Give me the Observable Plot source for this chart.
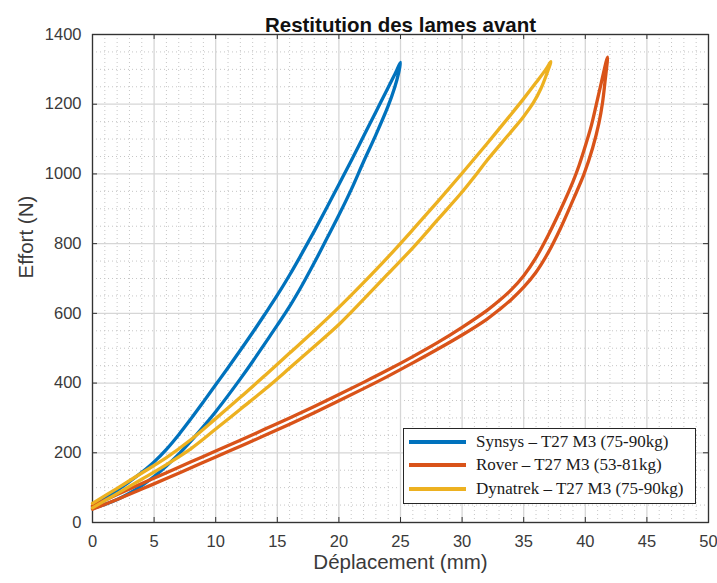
<!DOCTYPE html>
<html><head><meta charset="utf-8">
<script src="https://cdn.jsdelivr.net/npm/d3@7"></script>
<script src="https://cdn.jsdelivr.net/npm/@observablehq/plot@0.6"></script>
<style>
body{margin:0;background:#fff;}
#wrap{position:relative;width:717px;height:583px;}
#legend{position:absolute;left:403px;top:428px;width:291px;height:74px;border:1px solid #262626;background:#fff;font-family:"Liberation Serif","Times New Roman",serif;font-size:17px;color:#1a1a1a;}
.sw{position:absolute;left:5px;width:57px;height:4px;}
.lbl{position:absolute;left:72px;white-space:nowrap;line-height:20px;}
</style></head><body><div id="wrap"></div>
<script>
const title = "Restitution des lames avant";
const xLabel = "Déplacement (mm)";
const yLabel = "Effort (N)";
const xTicks = [0,5,10,15,20,25,30,35,40,45,50];
const yTicks = [0,200,400,600,800,1000,1200,1400];
const seriesNames = ["Synsys – T27 M3 (75-90kg)", "Rover – T27 M3 (53-81kg)", "Dynatrek – T27 M3 (75-90kg)"];
const seriesColors = ["#0072BD", "#D95319", "#EDB120"];

// [displacement mm, force N] — loading branch then unloading branch
const synsysLoop = [[0,45],[1,68],[2,92],[3,117],[4,144],[5,174],[6,210],[7,252],[8,298],[9,346],[10,395],[11,444],[12,494],[13,545],[14,598],[15,652],[16,710],[17,772],[18,836],[19,902],[20,970],[21,1038],[22,1108],[23,1178],[24,1248],[24.6,1290],[25,1320],
  [24.85,1290],[24.5,1245],[24,1195],[23,1112],[22,1035],[21,955],[20,882],[19,813],[18,745],[17,680],[16,620],[15,566],[14,514],[13,462],[12,412],[11,364],[10,318],[9,275],[8,234],[7,196],[6,162],[5,132],[4,106],[3,84],[2,66],[1,52],[0,40]];
const roverLoop = [[0,48],[2,80],[4,112],[6,143],[8,174],[10,205],[12,236],[14,268],[16,300],[18,333],[20,367],[22,402],[24,438],[26,476],[28,516],[30,560],[32,608],[33,636],[34,668],[35,708],[36,760],[37,825],[38,898],[39,978],[39.5,1025],[40,1080],[40.5,1140],[40.9,1200],[41.3,1262],[41.8,1335],
  [41.6,1265],[41.4,1205],[41.1,1145],[40.6,1075],[39.9,1000],[39,925],[38,845],[37,775],[36,718],[35,675],[34,640],[33,610],[32,583],[30,538],[28,497],[26,458],[24,420],[22,384],[20,349],[18,315],[16,282],[14,250],[12,219],[10,188],[8,157],[6,126],[4,96],[2,66],[0,38]];
const dynatrekLoop = [[0,55],[2,98],[4,142],[6,186],[8,238],[10,298],[12,359],[14,422],[16,486],[18,550],[20,617],[22,688],[24,762],[26,840],[28,920],[30,1002],[32,1086],[34,1172],[35,1216],[36,1262],[36.8,1300],[37.2,1322],
  [36.9,1290],[36.4,1245],[35.8,1205],[35,1165],[34,1122],[32,1038],[31,992],[30,948],[28,868],[26,788],[24,714],[22,640],[20,568],[18,505],[16,443],[14,382],[12,325],[10,268],[8,212],[6,166],[4,124],[2,83],[0,42]];

const loops = [synsysLoop, roverLoop, dynatrekLoop];
const rows = [];
loops.forEach((pts, k) => pts.forEach(([x, y]) => rows.push({series: seriesNames[k], x, y})));

const xMinor = d3.range(0, 51, 1).filter(v => v % 5 !== 0);
const yMinor = d3.range(0, 1401, 50).filter(v => v % 200 !== 0);

const H = 583, mT = 34, mB = 61;
const innerH = H - mT - mB;
const W = 717, mL = 92, mR = 9;
const innerW = W - mL - mR;
const tk = 5;

const chart = Plot.plot({
  width: W, height: H,
  marginLeft: mL, marginRight: mR, marginTop: mT, marginBottom: mB,
  x: {domain: [0, 50]},
  y: {domain: [0, 1400]},
  color: {domain: seriesNames, range: seriesColors},
  style: {fontFamily: '"Liberation Sans", Arial, sans-serif', fontSize: "16.5px", color: "#3a3a3a", background: "#fff"},
  marks: [
    Plot.ruleX(xMinor, {stroke: "#c6c6c6", strokeDasharray: "1,3"}),
    Plot.ruleY(yMinor, {stroke: "#c6c6c6", strokeDasharray: "1,3"}),
    Plot.ruleX(xTicks, {stroke: "#d6d6d6", strokeWidth: 1.3}),
    Plot.ruleY(yTicks, {stroke: "#d6d6d6", strokeWidth: 1.3}),
    Plot.ruleX(xTicks, {stroke: "#333", insetTop: innerH - tk}),
    Plot.ruleX(xTicks, {stroke: "#333", insetBottom: innerH - tk}),
    Plot.ruleY(yTicks, {stroke: "#333", insetRight: innerW - tk}),
    Plot.ruleY(yTicks, {stroke: "#333", insetLeft: innerW - tk}),
    Plot.frame({stroke: "#333", strokeWidth: 1.3}),
    Plot.axisX(xTicks, {anchor: "bottom", tickSize: 0, tickPadding: 13, label: null, tickFormat: d => String(d)}),
    Plot.axisY(yTicks, {anchor: "left", tickSize: 0, tickPadding: 11, label: null, tickFormat: d => String(d)}),
    Plot.line(rows, {x: "x", y: "y", z: "series", stroke: "series", strokeWidth: 3.3, curve: "catmull-rom"}),
    Plot.text([title], {text: d => d, frameAnchor: "top", dy: -17, fontWeight: "bold", fontSize: 20.5, fill: "#111"}),
    Plot.text([xLabel], {text: d => d, frameAnchor: "bottom", dy: 46, fontSize: 20.5, fill: "#3a3a3a"}),
    Plot.text([yLabel], {text: d => d, frameAnchor: "left", dx: -66, rotate: -90, fontSize: 20.5, fill: "#3a3a3a"})
  ]
});

const wrap = document.getElementById("wrap");
wrap.appendChild(chart);

const legend = document.createElement("div");
legend.id = "legend";
const centers = [13, 36, 59.5];
seriesNames.forEach((name, k) => {
  const sw = document.createElement("div");
  sw.className = "sw";
  sw.style.top = (centers[k] - 2) + "px";
  sw.style.background = seriesColors[k];
  const lb = document.createElement("div");
  lb.className = "lbl";
  lb.style.top = (centers[k] - 10) + "px";
  lb.textContent = name;
  legend.appendChild(sw);
  legend.appendChild(lb);
});
wrap.appendChild(legend);
</script>
</body></html>
